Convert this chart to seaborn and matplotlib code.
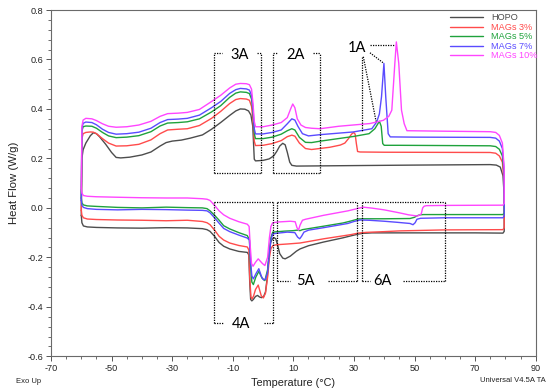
import matplotlib
matplotlib.use("Agg")
import numpy as np
import pandas as pd
import seaborn as sns
import matplotlib.pyplot as plt
from matplotlib.ticker import MultipleLocator, FormatStrFormatter

# ---------------- data ----------------
series_names = ["HOPO", "MAGs 3%", "MAGs 5%", "MAGs 7%", "MAGs 10%"]
series_colors = ["#4d4d4d", "#ff4b4b", "#1fa23c", "#5a4bff", "#ff45ff"]

# heating scans (upper curves), temperature in °C, heat flow in W/g
heat_T_hopo = [-60, -59.8, -59.4, -58.5, -57, -56, -55, -54, -52, -50, -48.5, -47, -44, -40, -37, -34, -32, -30,
               -27, -24, -20, -17, -14, -11, -9, -7.5, -6, -4.8, -4, -3.4, -3.1, -2.9, -2.5, 0, 2, 3.5, 4.5,
               5.5, 6.5, 7.3, 8, 8.8, 9.5, 11, 30, 50, 75, 77, 78.3, 79.2, 79.6]
heat_Q_hopo = [-0.03, 0.2, 0.235, 0.262, 0.292, 0.304, 0.3, 0.288, 0.258, 0.224, 0.204, 0.202, 0.205, 0.214, 0.226,
               0.25, 0.264, 0.27, 0.274, 0.282, 0.295, 0.318, 0.345, 0.374, 0.392, 0.4, 0.399, 0.392, 0.375, 0.33,
               0.25, 0.197, 0.19, 0.192, 0.198, 0.21, 0.228, 0.25, 0.261, 0.255, 0.225, 0.185, 0.172, 0.169, 0.171,
               0.173, 0.175, 0.173, 0.165, 0.13, 0.05]
cool_T_hopo = [79.6, 79.2, 70, 55, 40, 36, 33, 31.4, 29, 26.4, 20, 15, 12.2, 11, 9, 7.3, 6.5, 5.5, 4.8, 4.2, 3.6,
               3.0, 2.5, 2.0, 1.4, 0.8, 0.2, -0.5, -1.2, -1.8, -2.5, -3.2, -3.7, -4.1, -4.4, -4.7, -5.2, -8, -11,
               -13, -14.5, -16, -17.5, -18.5, -20, -25, -32, -40, -48, -55, -58, -59.3, -59.8, -60]
cool_Q_hopo = [-0.095, -0.102, -0.101, -0.101, -0.101, -0.101, -0.103, -0.106, -0.113, -0.121, -0.138, -0.153,
               -0.166, -0.175, -0.195, -0.206, -0.203, -0.185, -0.15, -0.125, -0.12, -0.127, -0.14, -0.19, -0.28,
               -0.34, -0.358, -0.363, -0.36, -0.354, -0.358, -0.37, -0.376, -0.37, -0.3, -0.19, -0.18, -0.176,
               -0.166, -0.155, -0.14, -0.115, -0.095, -0.088, -0.084, -0.081, -0.08, -0.082, -0.081, -0.079,
               -0.077, -0.073, -0.06, -0.03]

heat_T_m3 = [-60, -59.8, -59.4, -58.5, -57, -56, -55, -53, -51, -48.5, -45, -41, -37, -34, -31.5, -28, -25, -21,
             -17, -14, -11, -9, -7.5, -5.5, -4.5, -3.8, -3.3, -2.9, -2.5, 0, 3, 6, 8, 9.5, 10.5, 12, 14, 16, 22,
             25.5, 27, 28.2, 29.2, 29.9, 30.4, 30.8, 31.2, 32, 40, 75, 76.8, 78, 79, 79.6]
heat_Q_m3 = [-0.01, 0.28, 0.3, 0.305, 0.307, 0.306, 0.3, 0.28, 0.262, 0.25, 0.251, 0.257, 0.275, 0.3, 0.315, 0.318,
             0.32, 0.333, 0.362, 0.39, 0.422, 0.438, 0.442, 0.44, 0.435, 0.41, 0.35, 0.27, 0.252, 0.253, 0.26,
             0.272, 0.288, 0.294, 0.29, 0.262, 0.24, 0.236, 0.245, 0.254, 0.262, 0.28, 0.298, 0.305, 0.298, 0.26,
             0.228, 0.226, 0.225, 0.224, 0.221, 0.21, 0.185, 0.1]
cool_T_m3 = [79.6, 79.2, 60, 45, 40, 34, 31.4, 29, 26.4, 20, 15, 12.2, 8, 5.6, 4, 3.2, 2.6, 2.1, 1.5, 0.8, 0.1,
             -0.6, -1.6, -2.5, -3.1, -3.6, -4.0, -4.4, -4.7, -5.2, -8, -11, -13, -14.5, -16, -17.5, -18.5, -20,
             -25, -32, -40, -48, -55, -58, -59.3, -59.8, -60]
cool_Q_m3 = [-0.08, -0.088, -0.089, -0.093, -0.096, -0.099, -0.102, -0.108, -0.113, -0.125, -0.136, -0.142, -0.146,
             -0.148, -0.15, -0.153, -0.165, -0.2, -0.28, -0.345, -0.364, -0.355, -0.312, -0.33, -0.355, -0.368,
             -0.36, -0.28, -0.17, -0.158, -0.152, -0.142, -0.13, -0.115, -0.09, -0.068, -0.06, -0.055, -0.05,
             -0.052, -0.05, -0.049, -0.047, -0.045, -0.04, -0.03, -0.01]

heat_T_m5 = [-60, -59.8, -59.4, -58.5, -56.5, -55, -53, -51, -48.5, -45, -41, -37, -34, -31.5, -28, -25, -21, -17,
             -14, -11, -9, -7.5, -5.5, -4.5, -3.8, -3.3, -2.9, -2.5, 0, 3, 6, 8, 9.5, 10.5, 12, 14, 16, 19, 30, 35,
             36.9, 38.4, 39.0, 39.5, 40, 45, 75, 76.8, 78, 79, 79.6]
heat_Q_m5 = [0.04, 0.31, 0.328, 0.331, 0.33, 0.322, 0.305, 0.291, 0.284, 0.286, 0.292, 0.308, 0.331, 0.343, 0.345,
             0.348, 0.36, 0.388, 0.413, 0.447, 0.464, 0.469, 0.467, 0.462, 0.44, 0.385, 0.3, 0.28, 0.28, 0.286,
             0.298, 0.312, 0.32, 0.315, 0.285, 0.265, 0.264, 0.27, 0.289, 0.3, 0.32, 0.35, 0.33, 0.26, 0.253,
             0.253, 0.251, 0.248, 0.237, 0.21, 0.13]
cool_T_m5 = [79.6, 79.2, 60, 53, 51.8, 50.8, 50, 48.5, 40, 33, 31.4, 29, 26.4, 20, 15, 13, 12.2, 11.3, 10, 7, 5,
             3.2, 2.6, 2.1, 1.5, 0.6, -0.3, -1.4, -2.4, -3.2, -3.7, -4.1, -4.5, -5.2, -8, -11, -13, -14.5, -16,
             -17.5, -18.5, -20, -25, -32, -40, -48, -55, -58, -59.3, -59.8, -60]
cool_Q_m5 = [-0.02, -0.027, -0.027, -0.027, -0.028, -0.032, -0.038, -0.043, -0.044, -0.044, -0.045, -0.053,
             -0.061, -0.074, -0.084, -0.088, -0.092, -0.09, -0.092, -0.094, -0.096, -0.098, -0.12, -0.17, -0.25,
             -0.294, -0.285, -0.257, -0.28, -0.31, -0.3, -0.24, -0.13, -0.112, -0.1, -0.085, -0.072, -0.05, -0.03,
             -0.012, -0.003, 0.0, 0.001, 0.003, 0.0, 0.002, 0.006, 0.008, 0.012, 0.02, 0.04]

heat_T_m7 = [-60, -59.8, -59.4, -58.5, -56.5, -55, -53, -51, -48.5, -45, -41, -37, -34, -31.5, -28, -25, -21, -17,
             -14, -11, -9, -7.5, -5.5, -4.5, -3.8, -3.3, -2.9, -2.5, 0, 3, 6, 8, 9.5, 10.5, 11.5, 13, 15, 18.8,
             29.8, 35.9, 37.5, 38.4, 39.1, 39.9, 40.5, 41.3, 42, 50, 75, 76.8, 78, 79, 79.6]
heat_Q_m7 = [0.03, 0.32, 0.342, 0.347, 0.345, 0.336, 0.318, 0.305, 0.298, 0.3, 0.306, 0.322, 0.345, 0.357, 0.359,
             0.362, 0.375, 0.405, 0.43, 0.463, 0.478, 0.483, 0.481, 0.476, 0.455, 0.4, 0.32, 0.299, 0.299, 0.305,
             0.315, 0.34, 0.36, 0.355, 0.33, 0.3, 0.291, 0.296, 0.307, 0.32, 0.347, 0.38, 0.449, 0.584, 0.449,
             0.3, 0.287, 0.286, 0.285, 0.282, 0.27, 0.24, 0.15]
cool_T_m7 = [79.6, 79.2, 60, 52, 50.8, 50.2, 49.5, 48.5, 44, 40, 35, 32, 30, 28, 20, 15, 13.5, 12.7, 12.1, 11.4,
             10.5, 8, 5, 3.2, 2.6, 2.1, 1.5, 0.8, 0.2, -0.5, -1.4, -2.3, -3.2, -3.7, -4.1, -4.5, -5.2, -8, -11, -13,
             -14.5, -16, -17.5, -18.5, -20, -25, -32, -40, -48, -55, -58, -59.3, -59.8, -60]
cool_Q_m7 = [-0.033, -0.04, -0.04, -0.042, -0.046, -0.06, -0.068, -0.063, -0.058, -0.054, -0.05, -0.049, -0.055,
             -0.063, -0.08, -0.09, -0.098, -0.115, -0.125, -0.118, -0.1, -0.098, -0.102, -0.105, -0.13, -0.18,
             -0.26, -0.288, -0.291, -0.278, -0.246, -0.265, -0.287, -0.275, -0.22, -0.13, -0.122, -0.11, -0.096,
             -0.083, -0.062, -0.04, -0.02, -0.012, -0.01, -0.009, -0.007, -0.006, -0.008, -0.006, -0.003, 0.002,
             0.01, 0.03]

heat_T_m10 = [-60, -59.8, -59.4, -58.5, -56.5, -55, -53, -51, -48.5, -45, -41, -37, -34, -31.5, -28, -25, -21, -17,
              -14, -11, -9, -7.5, -5.5, -4.5, -3.8, -3.3, -2.9, -2.5, 0, 3, 6, 8, 9.1, 9.8, 10.5, 11.3, 12.5, 14,
              16, 18.8, 25, 35.3, 39.7, 41.5, 42.5, 43.5, 44.0, 44.8, 45.7, 46.6, 47.5, 60, 75, 76.8, 78, 79,
              79.6]
heat_Q_m10 = [0.08, 0.33, 0.355, 0.362, 0.36, 0.353, 0.34, 0.33, 0.326, 0.328, 0.335, 0.35, 0.37, 0.381, 0.383,
              0.386, 0.398, 0.43, 0.455, 0.485, 0.5, 0.503, 0.502, 0.498, 0.48, 0.42, 0.35, 0.328, 0.328, 0.335,
              0.345, 0.365, 0.4, 0.42, 0.405, 0.36, 0.335, 0.325, 0.322, 0.32, 0.33, 0.341, 0.354, 0.37, 0.395,
              0.584, 0.671, 0.584, 0.395, 0.34, 0.312, 0.31, 0.308, 0.305, 0.293, 0.262, 0.16]
cool_T_m10 = [79.6, 79.2, 60, 54, 53.2, 52.7, 52.2, 51, 48, 45, 40, 36, 33, 31.4, 28, 20, 14, 13, 12.2, 11.7, 11.2,
              10.6, 9, 5, 3.2, 2.6, 2.1, 1.5, 0.6, -0.2, -1.6, -2.5, -3.3, -3.8, -4.2, -4.6, -5.2, -8, -11, -13,
              -14.5, -16, -17.5, -18.5, -20, -25, -32, -40, -48, -55, -58, -59.3, -59.8, -60]
cool_Q_m10 = [0.018, 0.011, 0.01, 0.009, 0.007, 0.0, -0.025, -0.033, -0.028, -0.02, -0.008, -0.001, 0.003, -0.002,
              -0.012, -0.03, -0.046, -0.05, -0.07, -0.09, -0.08, -0.056, -0.054, -0.057, -0.06, -0.075, -0.12,
              -0.2, -0.233, -0.225, -0.206, -0.22, -0.236, -0.225, -0.16, -0.075, -0.066, -0.056, -0.042, -0.028,
              -0.012, 0.01, 0.03, 0.035, 0.037, 0.04, 0.04, 0.041, 0.043, 0.045, 0.047, 0.05, 0.06, 0.08]

x_ticks = [-70, -50, -30, -10, 10, 30, 50, 70, 90]
y_ticks = [-0.6, -0.4, -0.2, 0.0, 0.2, 0.4, 0.6, 0.8]

# ---------------- build long table ----------------
heat_T = [heat_T_hopo, heat_T_m3, heat_T_m5, heat_T_m7, heat_T_m10]
heat_Q = [heat_Q_hopo, heat_Q_m3, heat_Q_m5, heat_Q_m7, heat_Q_m10]
cool_T = [cool_T_hopo, cool_T_m3, cool_T_m5, cool_T_m7, cool_T_m10]
cool_Q = [cool_Q_hopo, cool_Q_m3, cool_Q_m5, cool_Q_m7, cool_Q_m10]
frames = []
for name, hT, hQ, cT, cQ in zip(series_names, heat_T, heat_Q, cool_T, cool_Q):
    frames.append(pd.DataFrame({"T": hT + cT, "Q": hQ + cQ, "series": name}))
df = pd.concat(frames, ignore_index=True)

# ---------------- style ----------------
sns.set_style("white")
plt.rcParams["font.family"] = ["Liberation Sans", "DejaVu Sans"]
plt.rcParams["axes.unicode_minus"] = False

fig = plt.figure(figsize=(5.5, 3.92), dpi=100)
ax = fig.add_axes([51 / 550, 1 - 356.3 / 392, 484.7 / 550, 346.3 / 392])

sns.lineplot(data=df, x="T", y="Q", hue="series", hue_order=series_names,
             palette=dict(zip(series_names, series_colors)), sort=False, estimator=None,
             linewidth=1.0, ax=ax)

ax.set_xlim(-70, 90)
ax.set_ylim(-0.6, 0.8)
ax.set_xticks(x_ticks)
ax.set_yticks(y_ticks)
ax.xaxis.set_minor_locator(MultipleLocator(5))
ax.yaxis.set_minor_locator(MultipleLocator(0.04))
ax.yaxis.set_major_formatter(FormatStrFormatter("%.1f"))
ax.tick_params(axis="both", which="major", direction="out", length=3.5, width=0.7, colors="#555555",
               labelsize=6.6, labelcolor="#222222", pad=2, left=True, bottom=True)
ax.tick_params(axis="both", which="minor", direction="out", length=2, width=0.6, colors="#555555",
               left=True, bottom=True)
for s in ax.spines.values():
    s.set_color("#6a6a6a")
    s.set_linewidth(0.8)

ax.set_xlabel("Temperature (°C)", fontsize=7.8, color="#222222", labelpad=4)
ax.set_ylabel("Heat Flow (W/g)", fontsize=8.2, color="#222222", labelpad=6)

# legend
handles, labels = ax.get_legend_handles_labels()
leg = ax.legend(handles, labels, loc="upper left", bbox_to_anchor=(0.823, 0.99), frameon=False,
                fontsize=6.6, handlelength=3.6, handletextpad=0.9, labelspacing=0.05,
                borderaxespad=0, borderpad=0, labelcolor="linecolor")

# dotted annotation boxes
dot = dict(color="black", linestyle=(0, (1, 1)), linewidth=0.9)


def box(x0, x1, y0, y1, side, g0, g1):
    ax.plot([x0, x0], [y0, y1], **dot)
    ax.plot([x1, x1], [y0, y1], **dot)
    ys = y1 if side == "top" else y0
    yo = y0 if side == "top" else y1
    ax.plot([x0, x1], [yo, yo], **dot)
    ax.plot([x0, g0], [ys, ys], **dot)
    ax.plot([g1, x1], [ys, ys], **dot)


box(-16.1, -0.7, 0.141, 0.628, "top", -13.7, -2.1)
box(3.4, 18.8, 0.141, 0.628, "top", 5.0, 16.6)
box(-16.1, 3.2, -0.466, 0.024, "bottom", -13.1, 0.4)
box(4.7, 31.1, -0.294, 0.024, "bottom", 8.9, 21.5)
box(32.5, 60.0, -0.294, 0.024, "bottom", 35.3, 46.3)

lab = dict(fontsize=10.5, family=["Lato", "DejaVu Sans"], ha="center", va="center", color="black")
ax.text(-7.6, 0.617, "3A", **lab)
ax.text(10.75, 0.617, "2A", **lab)
ax.text(-7.3, -0.469, "4A", **lab)
ax.text(14.1, -0.296, "5A", **lab)
ax.text(39.4, -0.296, "6A", **lab)
ax.text(31.1, 0.648, "1A", **lab)

ax.plot([35.3, 43.6], [0.658, 0.658], **dot)
ax.plot([35.3, 39.7], [0.627, 0.586], **dot)
ax.plot([32.5, 32.5], [0.611, 0.31], **dot)
ax.plot([33.1, 37.3], [0.611, 0.35], **dot)

fig.text(16 / 550, 1 - 381.7 / 392, "Exo Up", fontsize=5.5, color="#222222", va="center", ha="left")
fig.text(546 / 550, 1 - 380.7 / 392, "Universal V4.5A TA", fontsize=5.5, color="#222222", va="center",
         ha="right")

fig.savefig("out.png", dpi=100)
